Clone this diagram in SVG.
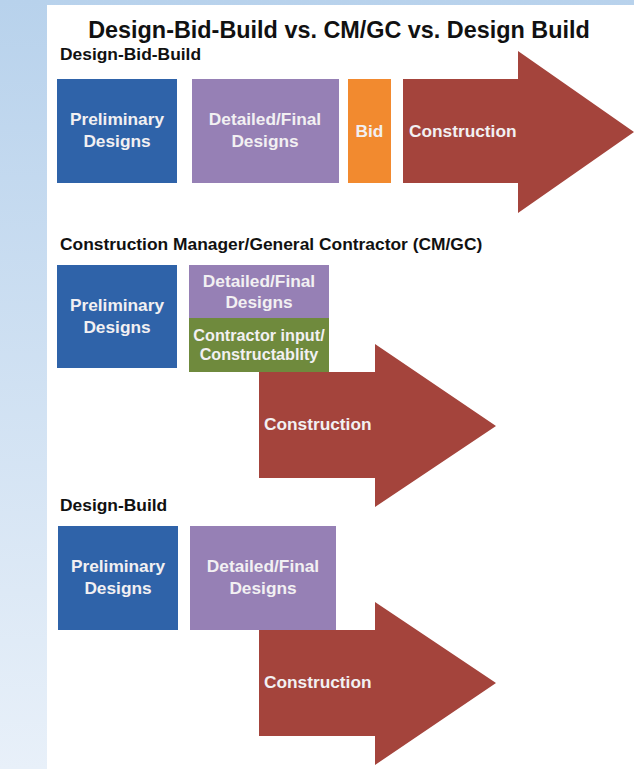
<svg xmlns="http://www.w3.org/2000/svg" width="634" height="769" viewBox="0 0 634 769">
  <defs>
    <linearGradient id="bgGrad" x1="0" y1="0" x2="0" y2="1">
      <stop offset="0" stop-color="#b8d2ec"/>
      <stop offset="1" stop-color="#e8f0f9"/>
    </linearGradient>
  </defs>
  <style>
    .title { font-family: "Liberation Sans", Arial, sans-serif; font-weight: bold; font-size: 23.4px; fill: #111; }
    .head { font-family: "Liberation Sans", Arial, sans-serif; font-weight: bold; font-size: 17.4px; fill: #111; }
    .lbl { font-family: "Liberation Sans", Arial, sans-serif; font-weight: bold; font-size: 17.3px; fill: #f2f0f2; text-anchor: middle; }
    .lbl-s { font-family: "Liberation Sans", Arial, sans-serif; font-weight: bold; font-size: 16.2px; fill: #f2f0f2; text-anchor: middle; }
    .lbl-l { font-family: "Liberation Sans", Arial, sans-serif; font-weight: bold; font-size: 17.3px; fill: #f2f0f2; }
    .prelim { fill: #2f63a9; }
    .detail { fill: #9680b5; }
    .bid { fill: #f28a2f; }
    .contractor { fill: #6f8a3d; }
    .arrow { fill: #a4443c; }
  </style>

  <!-- page background -->
  <rect x="0" y="0" width="634" height="769" fill="url(#bgGrad)"/>
  <rect x="47" y="5" width="587" height="764" fill="#ffffff"/>

  <text class="title" x="339" y="38" text-anchor="middle">Design-Bid-Build vs. CM/GC vs. Design Build</text>

  <!-- Design-Bid-Build -->
  <text class="head" x="60" y="60">Design-Bid-Build</text>
  <g id="dbb-prelim">
    <rect class="prelim" x="57" y="79" width="120" height="104"/>
    <text class="lbl" x="117" y="125">Preliminary</text>
    <text class="lbl" x="117" y="147">Designs</text>
  </g>
  <g id="dbb-detail">
    <rect class="detail" x="192" y="79" width="147" height="104"/>
    <text class="lbl" x="265" y="125">Detailed/Final</text>
    <text class="lbl" x="265" y="147">Designs</text>
  </g>
  <g id="dbb-bid">
    <rect class="bid" x="348" y="79" width="43" height="104"/>
    <text class="lbl" x="369.5" y="137">Bid</text>
  </g>
  <g id="dbb-construction">
    <polygon class="arrow" points="403,79 518,79 518,51 634,132 518,213 518,183 403,183"/>
    <text class="lbl-l" x="409" y="137">Construction</text>
  </g>

  <!-- CM/GC -->
  <text class="head" x="60" y="250">Construction Manager/General Contractor (CM/GC)</text>
  <g id="cmgc-prelim">
    <rect class="prelim" x="57" y="265" width="120" height="103"/>
    <text class="lbl" x="117" y="311">Preliminary</text>
    <text class="lbl" x="117" y="333">Designs</text>
  </g>
  <g id="cmgc-detail">
    <rect class="detail" x="189" y="265" width="140" height="53"/>
    <text class="lbl" x="259" y="287">Detailed/Final</text>
    <text class="lbl" x="259" y="308">Designs</text>
  </g>
  <g id="cmgc-contractor">
    <rect class="contractor" x="189" y="318" width="140" height="54"/>
    <text class="lbl-s" x="259" y="341">Contractor input/</text>
    <text class="lbl-s" x="259" y="360">Constructablity</text>
  </g>
  <g id="cmgc-construction">
    <polygon class="arrow" points="259,372 375,372 375,344 496,426 375,507 375,478 259,478"/>
    <text class="lbl-l" x="264" y="430">Construction</text>
  </g>

  <!-- Design-Build -->
  <text class="head" x="60" y="511">Design-Build</text>
  <g id="db-prelim">
    <rect class="prelim" x="58" y="526" width="120" height="104"/>
    <text class="lbl" x="118" y="572">Preliminary</text>
    <text class="lbl" x="118" y="594">Designs</text>
  </g>
  <g id="db-detail">
    <rect class="detail" x="190" y="526" width="146" height="104"/>
    <text class="lbl" x="263" y="572">Detailed/Final</text>
    <text class="lbl" x="263" y="594">Designs</text>
  </g>
  <g id="db-construction">
    <polygon class="arrow" points="259,630 375,630 375,602 496,683 375,765 375,736 259,736"/>
    <text class="lbl-l" x="264" y="688">Construction</text>
  </g>

  <g id="connectors"></g>
</svg>
